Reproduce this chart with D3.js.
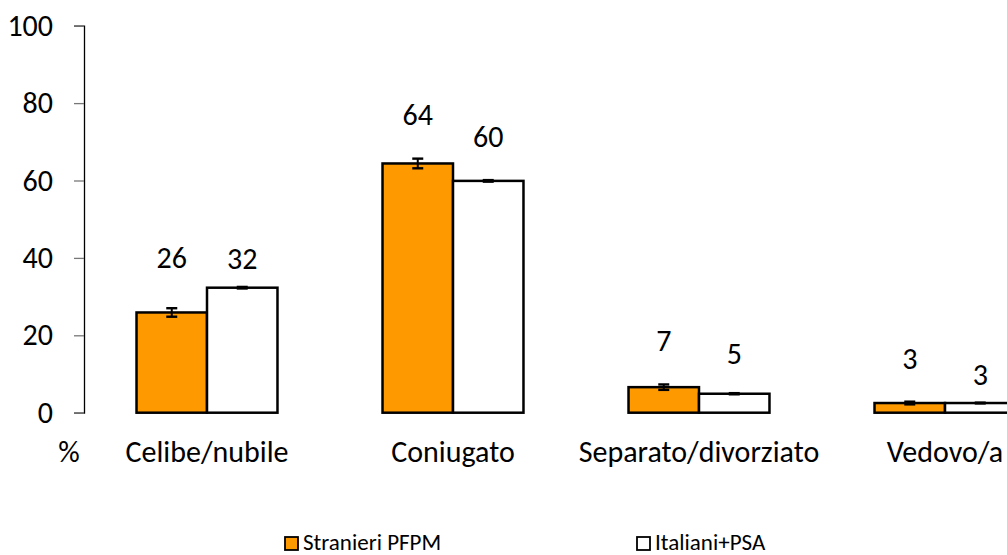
<!DOCTYPE html>
<html>
<head>
<meta charset="utf-8">
<script src="https://cdn.jsdelivr.net/npm/d3@7"></script>
<style>
  html, body { margin: 0; padding: 0; background: #fff; }
  svg { display: block; }
  text { font-family: Carlito, Calibri, Lato, sans-serif; fill: #000; }
</style>
</head>
<body>
<svg id="chart" width="1007" height="555"></svg>
<script>
// ---- data ----
const categories = ["Celibe/nubile", "Coniugato", "Separato/divorziato", "Vedovo/a"];
const seriesNames = ["Stranieri PFPM", "Italiani+PSA"];
const stranieri = [25.9, 64.4, 6.6, 2.5];
const italiani = [32.3, 59.9, 4.9, 2.5];
const stranieriErr = [1.1, 1.25, 0.7, 0.35];
const italianiErr = [0.2, 0.2, 0.15, 0.1];
const stranieriLabels = ["26", "64", "7", "3"];
const italianiLabels = ["32", "60", "5", "3"];
const yTicks = [0, 20, 40, 60, 80, 100];

// ---- layout (not data) ----
const axisX = 84;
const colors = ["#FF9900", "#FFFFFF"];
const mainFont = 30, legendFont = 23;
// distance (px) from bar top to label baseline, as placed in the original
const labelLift = [[44, 38, 36, 34], [19, 34, 30, 18]];

const svg = d3.select("#chart");

const y = d3.scaleLinear().domain([0, 100]).range([412.7, 25.7]);
const x0 = d3.scaleBand().domain(categories).range([axisX, axisX + 246 * categories.length])
  .paddingInner(0.427).paddingOuter(0.2135);
const x1 = d3.scaleBand().domain(seriesNames).range([0, x0.bandwidth()]);

const series = [
  { name: seriesNames[0], values: stranieri, err: stranieriErr, labels: stranieriLabels, color: colors[0], lift: labelLift[0] },
  { name: seriesNames[1], values: italiani, err: italianiErr, labels: italianiLabels, color: colors[1], lift: labelLift[1] }
];

// y axis
const yAxis = d3.axisLeft(y).tickValues(yTicks).tickSize(10).tickPadding(21).tickFormat(d3.format("d"));
const gy = svg.append("g").attr("transform", `translate(${axisX},0)`).call(yAxis);
gy.select(".domain").attr("stroke", "#000").attr("stroke-width", 1.3);
gy.selectAll(".tick line").attr("stroke", "#777").attr("stroke-width", 1.3);
gy.selectAll(".tick text").attr("font-size", mainFont).attr("font-family", "Carlito, Calibri, Lato, sans-serif").attr("fill", "#000");

// bars
const groups = svg.append("g").selectAll("g.series").data(series).join("g").attr("class", "series");
groups.each(function(s) {
  const g = d3.select(this);
  const rows = categories.map((c, i) => ({ c, i, v: s.values[i], e: s.err[i], label: s.labels[i], lift: s.lift[i] }));
  g.selectAll("rect").data(rows).join("rect")
    .attr("x", d => x0(d.c) + x1(s.name))
    .attr("y", d => y(d.v))
    .attr("width", x1.bandwidth())
    .attr("height", d => y(0) - y(d.v))
    .attr("fill", s.color)
    .attr("stroke", "#000")
    .attr("stroke-width", 2.5);
  // error bars
  const cx = d => x0(d.c) + x1(s.name) + x1.bandwidth() / 2;
  const eb = g.selectAll("g.err").data(rows).join("g").attr("class", "err");
  eb.append("line").attr("x1", cx).attr("x2", cx)
    .attr("y1", d => y(d.v + d.e)).attr("y2", d => y(d.v - d.e))
    .attr("stroke", "#000").attr("stroke-width", 2);
  eb.append("line").attr("x1", d => cx(d) - 5.5).attr("x2", d => cx(d) + 5.5)
    .attr("y1", d => y(d.v + d.e)).attr("y2", d => y(d.v + d.e))
    .attr("stroke", "#000").attr("stroke-width", 2.4);
  eb.append("line").attr("x1", d => cx(d) - 5.5).attr("x2", d => cx(d) + 5.5)
    .attr("y1", d => y(d.v - d.e)).attr("y2", d => y(d.v - d.e))
    .attr("stroke", "#000").attr("stroke-width", 2.4);
  // value labels
  g.selectAll("text.val").data(rows).join("text").attr("class", "val")
    .attr("x", cx)
    .attr("y", d => y(d.v) - d.lift)
    .attr("text-anchor", "middle")
    .attr("font-size", mainFont)
    .text(d => d.label);
});

// category labels
svg.append("g").selectAll("text").data(categories).join("text")
  .attr("x", d => x0(d) + x0.bandwidth() / 2)
  .attr("y", 462)
  .attr("text-anchor", "middle")
  .attr("font-size", mainFont)
  .text(d => d);

svg.append("text").attr("x", 69).attr("y", 462).attr("text-anchor", "middle")
  .attr("font-size", mainFont).text("%");

// legend
const legendX = [285, 637];
const lg = svg.append("g").selectAll("g").data(series).join("g")
  .attr("transform", (d, i) => `translate(${legendX[i]},537)`);
lg.append("rect").attr("width", 13).attr("height", 13).attr("fill", d => d.color)
  .attr("stroke", "#000").attr("stroke-width", 1.8);
lg.append("text").attr("x", 18).attr("y", 13).attr("font-size", legendFont).text(d => d.name);
</script>
</body>
</html>
